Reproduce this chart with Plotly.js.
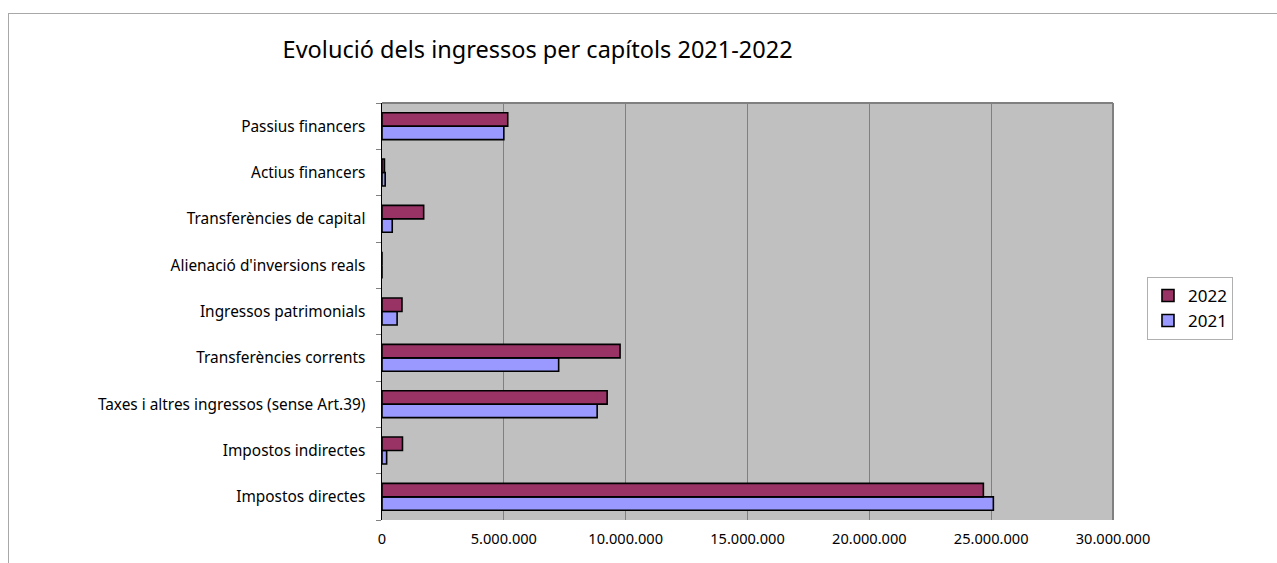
<!DOCTYPE html>
<html>
<head>
<meta charset="utf-8">
<script src="https://cdn.plot.ly/plotly-3.0.1.min.js"></script>
<style>
  html, body { margin: 0; padding: 0; background: #fff; }
  #frame { position: absolute; left: 8px; top: 13px; width: 1269px; height: 550px;
           border-left: 1px solid #a8a8a8; border-top: 1px solid #a8a8a8; box-sizing: border-box; pointer-events: none; z-index: 5; }
  #chart { position: absolute; left: 0; top: 0; width: 1277px; height: 563px; }
</style>
</head>
<body>
<div id="chart"></div>
<div id="frame"></div>
<script>
// Categories (bottom to top)
const categories = [
  "Impostos directes",
  "Impostos indirectes",
  "Taxes i altres ingressos (sense Art.39)",
  "Transferències corrents",
  "Ingressos patrimonials",
  "Alienació d'inversions reals",
  "Transferències de capital",
  "Actius financers",
  "Passius financers"
];
const values2021 = [25090000, 190000, 8830000, 7250000, 620000, 0, 420000, 130000, 5000000];
const values2022 = [24680000, 840000, 9240000, 9770000, 820000, 0, 1710000, 100000, 5160000];
const xTicks = [0, 5000000, 10000000, 15000000, 20000000, 25000000, 30000000];

const traces = [
  { type: 'bar', orientation: 'h', name: '2021', y: categories, x: values2021,
    marker: { color: '#9999FF', line: { color: '#000000', width: 1.6 } } },
  { type: 'bar', orientation: 'h', name: '2022', y: categories, x: values2022,
    marker: { color: '#993366', line: { color: '#000000', width: 1.6 } } }
];

const layout = {
  width: 1277, height: 563,
  margin: { l: 382, r: 164, t: 103, b: 43, pad: 0 },
  paper_bgcolor: '#ffffff',
  plot_bgcolor: '#C0C0C0',
  font: { family: 'Noto Sans, Open Sans, sans-serif', color: '#000', size: 15 },
  separators: ',.',
  barmode: 'group',
  bargap: 0.42,
  bargroupgap: 0,
  hovermode: false,
  title: { text: 'Evolució dels ingressos per capítols 2021-2022', font: { size: 23.5, color: '#000' },
           x: 0.421, xref: 'container', xanchor: 'center', y: 0.911, yref: 'container', yanchor: 'middle' },
  xaxis: {
    range: [0, 30000000], tickvals: xTicks, tickformat: ',d',
    showgrid: true, gridcolor: '#808080', gridwidth: 1,
    zeroline: false, showline: false,
    ticks: '', tickfont: { size: 14.6 }, ticklabelstandoff: 8
  },
  yaxis: {
    categoryorder: 'array', categoryarray: categories,
    showgrid: false, zeroline: false,
    showline: true, linecolor: '#000000', linewidth: 1.5,
    ticks: 'outside', tickson: 'boundaries', ticklen: 5, tickcolor: '#808080',
    tickfont: { size: 15.4 }, ticklabelstandoff: 12
  },
  shapes: [
    { type: 'line', xref: 'paper', yref: 'paper', x0: 0, x1: 1, y0: 1, y1: 1, line: { color: '#808080', width: 2 } },
    { type: 'line', xref: 'paper', yref: 'paper', x0: 1, x1: 1, y0: 0, y1: 1, line: { color: '#808080', width: 2 } }
  ],
  legend: {
    x: 1.0465, xanchor: 'left', y: 0.583, yanchor: 'top',
    traceorder: 'reversed',
    bordercolor: '#b0b0b0', borderwidth: 1, bgcolor: '#ffffff',
    font: { size: 17 }, itemwidth: 30, tracegroupgap: 4
  }
};

Plotly.newPlot('chart', traces, layout, { displayModeBar: false, staticPlot: true });
</script>
</body>
</html>
